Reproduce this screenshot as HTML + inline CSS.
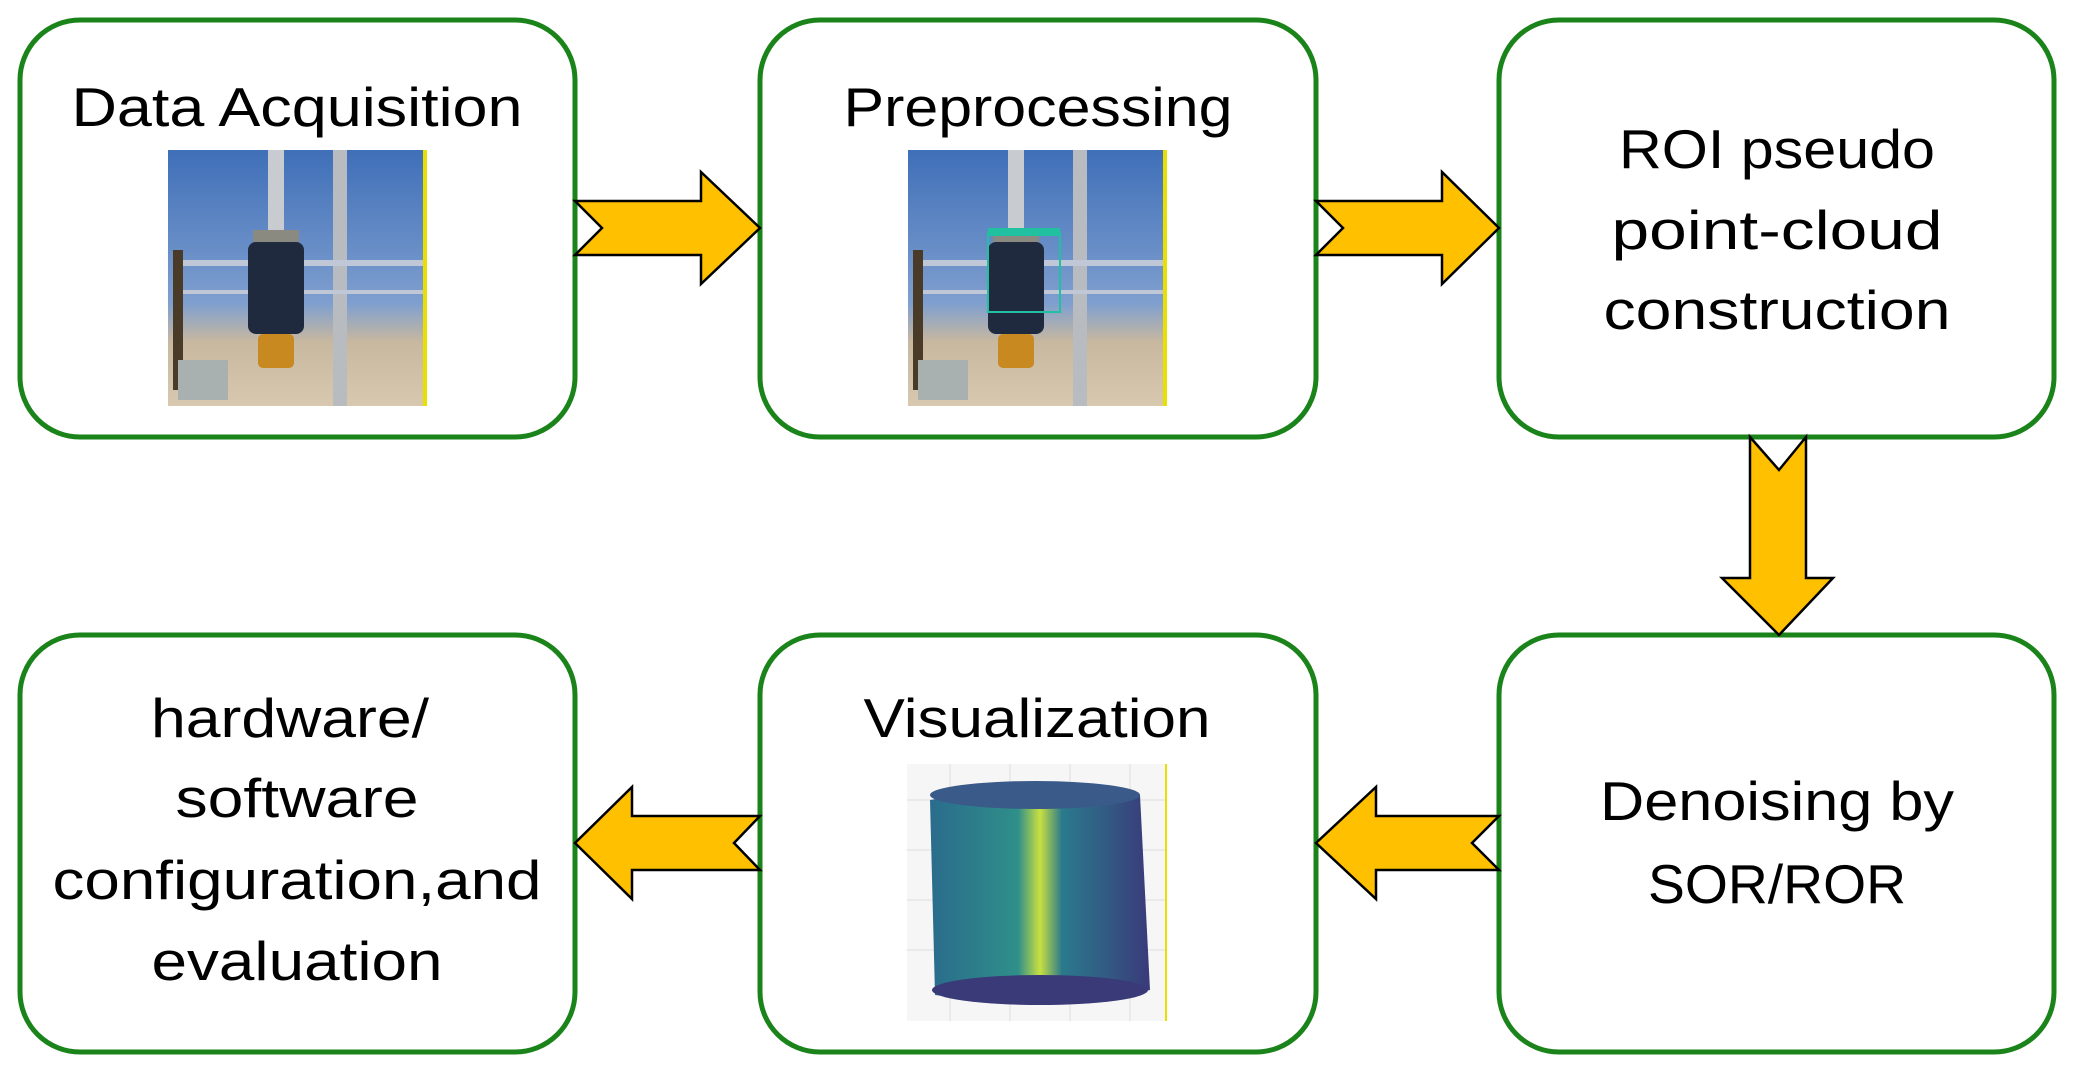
<!DOCTYPE html>
<html><head><meta charset="utf-8"><style>html,body{margin:0;padding:0;background:#fff}svg{display:block}</style></head>
<body>
<svg width="2074" height="1072" viewBox="0 0 2074 1072" xmlns="http://www.w3.org/2000/svg">
<defs>
<linearGradient id="sky" x1="0" y1="0" x2="0" y2="1"><stop offset="0" stop-color="#3f6fb8"/><stop offset="0.6" stop-color="#7f9fcf"/><stop offset="0.75" stop-color="#c8b8a0"/><stop offset="1" stop-color="#d8c8b0"/></linearGradient>
<linearGradient id="viz" x1="0" y1="0" x2="1" y2="0"><stop offset="0" stop-color="#2a6c8c"/><stop offset="0.4" stop-color="#2f8f8a"/><stop offset="0.5" stop-color="#c8e040"/><stop offset="0.6" stop-color="#2a7a8c"/><stop offset="1" stop-color="#3a3a7a"/></linearGradient>
<g id="photo">
<rect x="0" y="0" width="259" height="256" fill="url(#sky)"/>
<rect x="100" y="0" width="16" height="80" fill="#c8ccd0"/>
<rect x="165" y="0" width="14" height="256" fill="#b8bcc0"/>
<rect x="5" y="110" width="250" height="6" fill="#c0c8d8"/>
<rect x="5" y="140" width="250" height="4" fill="#c0c8d8"/>
<rect x="85" y="80" width="46" height="12" fill="#8a8a80"/>
<rect x="80" y="92" width="56" height="92" rx="8" fill="#1f2a3e"/>
<rect x="90" y="184" width="36" height="34" rx="5" fill="#c88a20"/>
<rect x="5" y="100" width="10" height="140" fill="#4a3a28"/>
<rect x="10" y="210" width="50" height="40" fill="#a8b0b0"/>
<rect x="255" y="0" width="4" height="256" fill="#e8e000"/>
</g>
</defs>
<g fill="#fff" stroke="#1a831a" stroke-width="5">
<rect x="20" y="20" width="555" height="417" rx="60"/>
<rect x="760" y="20" width="556" height="417" rx="60"/>
<rect x="1499" y="20" width="555" height="417" rx="60"/>
<rect x="20" y="635" width="555" height="417" rx="60"/>
<rect x="760" y="635" width="556" height="417" rx="60"/>
<rect x="1499" y="635" width="555" height="417" rx="60"/>
</g>
<g fill="#ffc000" stroke="#000" stroke-width="2.5" stroke-linejoin="miter">
<polygon points="575,201 701,201 701,172 760,228 701,284 701,255 575,255 602,228"/>
<polygon points="1316,201 1442,201 1442,172 1499,228 1442,284 1442,255 1316,255 1343,228"/>
<polygon points="1750,437 1779,470 1806,437 1806,578 1833,578 1779,635 1722,578 1750,578"/>
<polygon points="1499,816 1376,816 1376,787 1316,843 1376,899 1376,870 1499,870 1472,843"/>
<polygon points="760,816 632,816 632,787 575,843 632,899 632,870 760,870 734,843"/>
</g>
<use href="#photo" x="168" y="150"/>
<use href="#photo" x="908" y="150"/>
<rect x="988" y="232" width="72" height="80" fill="none" stroke="#20c0a0" stroke-width="2"/>
<rect x="988" y="228" width="72" height="8" fill="#20c0a0"/>
<rect x="907" y="764" width="260" height="257" fill="#f6f6f6"/>
<g stroke="#ddd" stroke-width="1"><line x1="907" y1="800" x2="1167" y2="800"/><line x1="907" y1="850" x2="1167" y2="850"/><line x1="907" y1="900" x2="1167" y2="900"/><line x1="907" y1="950" x2="1167" y2="950"/><line x1="950" y1="764" x2="950" y2="1021"/><line x1="1010" y1="764" x2="1010" y2="1021"/><line x1="1070" y1="764" x2="1070" y2="1021"/><line x1="1130" y1="764" x2="1130" y2="1021"/></g>
<path d="M930,800 Q1035,780 1140,795 L1150,990 Q1040,1010 935,995 Z" fill="url(#viz)"/>
<ellipse cx="1035" cy="795" rx="105" ry="14" fill="#3a5a8a"/>
<ellipse cx="1040" cy="990" rx="108" ry="15" fill="#3a3a78"/>
<rect x="1165" y="764" width="2" height="257" fill="#e8e000"/>
<g font-family="Liberation Sans, sans-serif" font-size="55" fill="#000" text-anchor="middle">
<text x="297" y="126" textLength="451" lengthAdjust="spacingAndGlyphs">Data Acquisition</text>
<text x="1038" y="126" textLength="389" lengthAdjust="spacingAndGlyphs">Preprocessing</text>
<text x="1777" y="168" textLength="316" lengthAdjust="spacingAndGlyphs">ROI pseudo</text>
<text x="1777" y="249" textLength="331" lengthAdjust="spacingAndGlyphs">point-cloud</text>
<text x="1777" y="329" textLength="347" lengthAdjust="spacingAndGlyphs">construction</text>
<text x="1777" y="820" textLength="354" lengthAdjust="spacingAndGlyphs">Denoising by</text>
<text x="1777" y="903" textLength="258" lengthAdjust="spacingAndGlyphs">SOR/ROR</text>
<text x="1037" y="737" textLength="347" lengthAdjust="spacingAndGlyphs">Visualization</text>
<text x="290" y="737" textLength="278" lengthAdjust="spacingAndGlyphs">hardware/</text>
<text x="297" y="817" textLength="243" lengthAdjust="spacingAndGlyphs">software</text>
<text x="297" y="899" textLength="489" lengthAdjust="spacingAndGlyphs">configuration,and</text>
<text x="297" y="980" textLength="291" lengthAdjust="spacingAndGlyphs">evaluation</text>
</g>
</svg>
</body></html>
